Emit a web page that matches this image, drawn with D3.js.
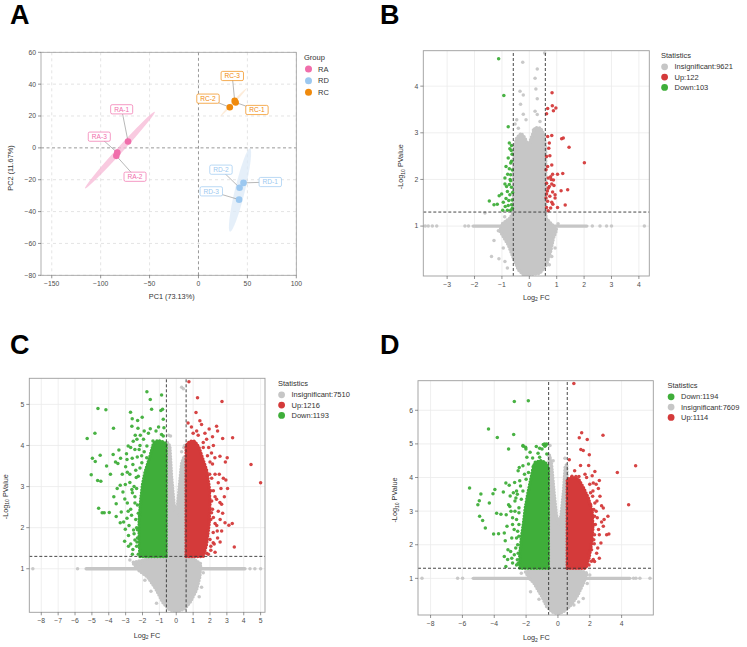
<!DOCTYPE html>
<html><head><meta charset="utf-8">
<script src="https://cdn.jsdelivr.net/npm/d3@7"></script>
<style>
body{margin:0;background:#fff}
svg text{font-family:"Liberation Sans",Arial,Helvetica,sans-serif}
</style>
</head><body>
<svg id="c" width="747" height="647"></svg>
<script>
// ===================== DATA =====================
// Panel A : PCA
const pcaSamples = ["RA-1","RA-2","RA-3","RC-1","RC-2","RC-3","RD-1","RD-2","RD-3"];
const pcaGroup   = ["RA","RA","RA","RC","RC","RC","RD","RD","RD"];
const pc1        = [-72,-84,-83, 38, 32, 37, 46, 42, 41.5];
const pc2        = [  4, -5, -3, 28.5, 25.5, 29.5, -22, -25, -32.5];
const pcaLegend  = ["RA","RD","RC"];
// ellipse major-axis end points (data units)
const ellipseEnds = {RA:[[-116,-25.4],[-44.6,22.7]], RC:[[22,19.6],[49.3,37.4]], RD:[[32.2,-52.6],[52.7,-0.3]]};
const pcaXTicks = [-150,-100,-50,0,50,100];
const pcaYTicks = [-80,-60,-40,-20,0,20,40,60];

// Panel B volcano
const bDown = [[-1.12,4.59],[-0.93,3.80],[-0.77,3.13],[-0.73,2.78],[-0.65,2.73],[-0.71,2.66],[-0.63,2.54],[-0.77,2.46],[-0.68,2.35],[-0.85,2.28],[-0.73,2.23],[-0.79,2.11],[-0.89,2.03],[-0.68,1.97],[-0.73,1.89],[-0.65,1.83],[-0.80,1.74],[-1.01,1.69],[-1.10,1.65],[-0.71,1.67],[-0.85,1.59],[-0.95,1.51],[-1.17,1.47],[-1.46,1.54],[-1.29,1.46],[-0.97,1.34],[-0.80,1.34],[-0.68,1.34],[-0.65,1.46],[-0.77,1.44],[-0.68,2.10],[-0.65,2.39],[-0.83,1.85],[-0.89,1.90],[-0.63,1.56],[-0.70,2.00],[-0.62,2.20],[-0.75,1.55],[-0.62,1.38],[-0.88,1.42],[-0.66,2.62],[-0.61,1.72]];
const bUp = [[0.83,3.86],[0.67,3.52],[0.84,3.58],[0.97,3.53],[0.88,3.47],[0.63,3.41],[0.67,2.92],[0.82,2.94],[1.18,2.87],[1.24,2.89],[1.45,2.69],[0.73,2.78],[0.71,2.67],[2.01,2.36],[0.63,2.49],[0.75,2.51],[0.82,2.31],[0.67,2.28],[0.85,2.11],[0.78,2.06],[0.69,2.03],[0.88,1.99],[0.63,1.92],[0.82,1.90],[1.03,2.11],[1.22,2.13],[0.90,1.87],[0.69,1.81],[1.16,1.76],[1.40,1.78],[0.85,1.73],[0.63,1.69],[0.75,1.64],[0.94,1.60],[0.67,1.53],[0.82,1.51],[1.31,1.45],[1.03,1.40],[0.63,1.40],[0.78,1.39],[0.69,1.33],[0.94,1.67],[0.61,2.21],[0.73,1.85],[0.61,1.60],[0.80,2.00],[0.66,1.75],[0.86,1.47]];
const bGrayCore = [[0.02,-0.04],[0.39,-0.01],[0.63,0.17],[0.78,0.46],[0.88,0.74],[1.0,0.92],[0.82,1.04],[0.61,1.17],[0.6,1.31],[0.6,2.67],[0.54,2.96],[0.41,3.1],[0.21,3.11],[0.09,2.92],[-0.04,2.71],[-0.16,2.89],[-0.3,2.99],[-0.46,2.89],[-0.56,2.67],[-0.58,1.31],[-0.71,1.17],[-1.01,1.04],[-1.07,0.89],[-0.77,0.6],[-0.58,0.31],[-0.4,0.06],[-0.22,-0.04]];
const bGray = [[0.56,4.71],[-0.24,4.51],[0.29,4.37],[0.21,4.17],[0.24,3.94],[-0.34,3.89],[-0.22,3.81],[0.29,3.73],[-0.32,3.61],[0.21,3.46],[0.29,3.39],[-0.22,3.40],[-0.46,3.28],[-0.12,3.28],[-0.52,3.19],[-0.40,3.10],[0.39,3.24],[0.15,3.06],[-1.38,0.35],[-1.11,0.30],[-1.29,0.69],[-1.13,0.90],[-0.95,0.53],[-0.89,0.24],[-0.80,0.10],[0.88,0.81],[0.94,0.53],[0.82,0.35],[0.73,0.17],[-1.62,1.28],[1.05,1.05],[-0.9,1.2]];
const bLineDense = [-2.05, 2.1];
const bLinePts = [-3.8,-3.69,-3.54,-3.38,-2.35,-2.22,2.3,2.58,2.82,3.0,4.2];
const bTicksX = [-3,-2,-1,0,1,2,3,4];
const bTicksY = [1,2,3,4];
const bStats = {Insignificant:9621, Up:122, Down:103};

// Panel C volcano
const cDownCore = [[-0.6,1.3],[-2.15,1.3],[-2.2,1.7],[-2.2,2.2],[-2.1,2.7],[-2.0,3.05],[-1.85,3.35],[-1.55,3.75],[-1.35,4.05],[-1.1,4.12],[-0.85,4.1],[-0.6,4.05]];
const cDown = [[-1.74,5.31],[-4.64,4.90],[-4.17,4.87],[-2.71,4.81],[-1.54,5.12],[-1.46,4.88],[-2.02,4.69],[-2.61,4.65],[-2.29,4.61],[-2.63,4.47],[-3.72,4.42],[-2.27,4.42],[-1.54,4.41],[-5.28,4.17],[-4.82,4.30],[-2.43,4.25],[-2.13,4.25],[-2.33,4.15],[-1.94,4.15],[-1.38,4.11],[-1.74,3.99],[-2.85,3.99],[-3.40,3.89],[-3.74,3.78],[-4.51,3.76],[-4.97,3.69],[-4.80,3.61],[-4.13,3.50],[-5.04,3.29],[-4.66,3.15],[-4.47,3.13],[-3.30,3.69],[-2.92,3.66],[-2.61,3.69],[-2.04,3.58],[-3.46,3.56],[-3.00,3.48],[-2.31,3.72],[-2.57,3.54],[-2.37,3.22],[-3.32,3.03],[-3.02,3.05],[-3.16,2.87],[-2.63,2.93],[-3.56,2.58],[-3.97,2.37],[-4.27,2.36],[-4.60,2.47],[-4.39,2.36],[-3.56,2.27],[-3.26,2.38],[-3.12,2.14],[-2.92,2.23],[-3.32,2.12],[-3.02,1.96],[-2.53,1.94],[-2.83,1.81],[-3.06,1.67],[-2.83,1.55],[-2.33,1.65],[-2.57,1.47],[-2.13,1.43],[-1.84,1.39],[-0.87,5.23],[-0.81,4.88],[-0.91,4.85],[-0.77,4.64],[-0.73,4.43],[-0.87,4.27],[-0.77,4.23],[-2.45,2.6],[-2.5,3.0],[-2.7,2.45],[-2.35,2.0],[-2.75,3.3],[-2.4,3.4],[-2.2,3.9],[-1.9,3.85],[-1.65,4.3],[-1.2,4.35],[-1.05,4.45],[-2.45,1.7],[-3.6,3.6],[-3.9,3.3],[-3.5,2.95],[-2.9,2.6],[-3.7,2.75],[-2.9,3.35],[-2.75,3.1],[-2.6,2.85],[-2.45,2.75],[-2.3,2.55],[-2.85,2.4],[-2.65,2.3],[-2.4,2.2],[-2.8,2.05],[-2.5,1.85],[-2.3,1.75],[-2.7,1.6],[-2.35,1.55],[-2.6,1.35],[-2.25,1.35],[-3.05,2.7],[-3.2,3.3],[-2.95,3.8],[-2.7,3.95],[-2.45,3.9],[-2.55,4.1],[-2.15,4.0],[-1.9,4.35],[-2.25,3.25],[-2.35,2.95],[-2.3,1.95],[-2.25,2.35],[-2.15,3.45],[-2.05,3.75],[-1.75,3.7]];
const cUpCore = [[0.585,1.3],[1.6,1.3],[1.8,1.6],[1.95,2.1],[2.0,2.6],[1.95,3.0],[1.8,3.4],[1.55,3.7],[1.35,3.95],[1.1,4.1],[0.8,4.1],[0.585,4.0]];
const cUp = [[0.75,5.55],[1.26,5.16],[2.71,5.07],[1.17,4.80],[1.50,4.51],[2.39,4.47],[2.45,4.35],[2.75,4.17],[3.34,4.19],[2.15,4.21],[1.21,4.35],[0.67,4.03],[4.43,3.54],[5.0,3.09],[2.91,3.60],[3.02,3.70],[2.79,3.20],[2.94,3.16],[3.04,2.95],[2.59,2.61],[2.69,2.57],[3.32,2.10],[2.89,2.12],[3.12,2.06],[2.43,1.92],[2.69,1.92],[3.44,1.53],[2.19,1.88],[2.45,1.75],[1.90,1.35],[2.09,2.36],[2.39,2.69],[2.49,3.09],[2.59,3.74],[2.29,3.70],[2.09,3.82],[1.92,3.95],[1.60,4.07],[1.80,4.15],[1.40,4.60],[2.49,2.40],[2.19,1.63],[2.00,1.71],[2.2,2.9],[2.3,3.3],[2.15,3.55],[2.6,2.2],[1.95,4.4],[1.0,4.3],[0.7,4.55],[2.05,1.45],[2.3,2.1],[2.05,2.9],[2.15,2.45],[2.3,2.75],[2.1,3.2],[2.25,1.6],[2.05,1.55],[2.4,2.05],[2.0,3.6],[2.2,4.0],[1.7,4.3],[1.3,4.25],[0.9,4.45],[2.55,3.3],[2.65,2.95],[2.3,1.4],[1.8,1.38],[2.6,1.65],[2.75,2.35],[2.85,2.75],[2.2,2.25],[2.05,2.2],[2.1,2.65],[1.98,3.3],[1.85,3.75],[1.6,3.95]];
const cGrayCore = [[0.02,-0.04],[0.5,0.02],[0.85,0.2],[1.2,0.48],[1.4,0.8],[1.45,1.12],[1.0,1.25],[0.6,1.28],[0.58,3.3],[0.47,3.74],[0.32,3.58],[0.18,3.0],[0.02,2.28],[-0.14,2.61],[-0.28,3.26],[-0.38,3.99],[-0.53,4.07],[-0.61,3.3],[-0.61,1.28],[-1.5,1.25],[-2.6,1.15],[-2.2,0.95],[-1.7,0.8],[-1.2,0.5],[-0.8,0.18],[-0.4,0.0]];
const cGray = [[0.32,5.42],[0.42,5.38],[-0.34,4.23],[0.32,3.85],[0.45,3.95],[1.36,0.32],[-1.86,0.72],[-1.17,0.16],[-2.75,1.21],[-2.15,1.13],[1.6,0.9],[-1.5,0.45],[1.5,0.55],[-0.45,4.25],[0.5,4.0]];
const cLineDense = [-5.34, 4.07];
const cLinePts = [-8.5,-5.85,4.37,4.66,5.0];
const cTicksX = [-8,-7,-6,-5,-4,-3,-2,-1,0,1,2,3,4,5];
const cTicksY = [1,2,3,4,5];
const cStats = {Insignificant:7510, Up:1216, Down:1193};

// Panel D volcano
const dDownCore = [[-0.6,1.3],[-2.4,1.3],[-2.4,1.7],[-2.3,2.2],[-2.15,2.7],[-2.05,3.1],[-1.9,3.5],[-1.75,3.85],[-1.6,4.2],[-1.45,4.45],[-1.1,4.5],[-0.8,4.45],[-0.6,4.3]];
const dDown = [[-2.74,6.26],[-1.86,6.28],[-4.36,5.44],[-3.81,5.19],[-2.78,5.28],[-3.10,4.85],[-2.18,4.93],[-2.01,4.85],[-2.43,4.30],[-5.55,3.69],[-4.84,3.51],[-4.94,3.31],[-5.03,3.19],[-4.31,3.24],[-4.92,2.85],[-4.73,2.72],[-4.56,2.50],[-4.08,3.52],[-3.96,3.64],[-3.43,3.57],[-3.27,3.84],[-3.06,3.77],[-2.72,3.85],[-3.85,2.94],[-3.58,2.91],[-3.25,2.89],[-4.04,2.32],[-3.73,2.33],[-3.37,2.35],[-3.31,2.12],[-3.14,1.85],[-2.97,1.80],[-3.37,1.65],[-3.16,1.56],[-3.27,1.35],[-3.02,3.14],[-3.10,3.19],[-2.64,3.39],[-2.85,2.80],[-2.85,2.60],[-2.53,2.00],[-2.74,1.70],[-2.85,1.46],[-2.53,2.40],[-1.59,4.58],[-1.55,4.33],[-0.92,4.98],[-0.82,4.93],[-0.75,4.97],[-1.0,4.85],[-1.25,4.72],[-1.15,4.6],[-0.7,4.7],[-1.36,4.92],[-1.15,4.87],[-2.2,4.95],[-2.03,4.9],[-0.84,5.0],[-0.71,5.0],[-2.6,3.6],[-2.45,3.1],[-2.6,2.2],[-2.55,1.55],[-2.7,3.0],[-2.35,3.75],[-2.1,4.1],[-1.85,4.4],[-2.9,2.2],[-2.75,2.45],[-2.6,2.75],[-2.45,2.95],[-2.7,3.3],[-2.55,3.5],[-2.4,3.9],[-2.8,3.55],[-2.95,3.0],[-2.65,1.9],[-2.5,1.75],[-2.9,1.6],[-2.6,1.4],[-2.45,2.25],[-2.2,4.35],[-1.95,4.6],[-1.75,4.75],[-2.5,4.2],[-3.0,3.45],[-3.2,2.55],[-2.5,1.45],[-2.45,2.6],[-2.3,3.35],[-2.2,3.6],[-2.0,3.95],[-1.85,4.15]];
const dUpCore = [[0.585,1.3],[1.75,1.3],[1.95,1.6],[2.1,2.0],[2.2,2.5],[2.15,3.0],[1.9,3.4],[1.6,3.7],[1.3,3.95],[0.9,4.0],[0.585,3.95]];
const dUp = [[1.0,6.8],[1.49,5.33],[1.34,5.18],[1.84,5.13],[2.83,5.26],[1.59,4.80],[1.44,4.83],[1.97,4.68],[1.42,4.36],[1.93,4.36],[0.71,4.53],[2.32,4.18],[3.73,4.15],[4.88,4.35],[4.44,3.19],[0.88,4.04],[1.13,4.03],[1.32,4.03],[2.60,3.91],[2.22,3.84],[2.54,3.67],[2.64,3.44],[2.85,3.09],[2.74,3.16],[3.14,2.85],[2.74,2.68],[2.85,2.55],[3.06,2.30],[3.20,2.32],[2.60,2.30],[2.47,2.80],[2.22,2.60],[2.28,2.03],[2.11,1.85],[2.43,1.75],[2.22,1.56],[2.11,1.51],[2.32,3.24],[2.05,3.19],[2.18,3.44],[2.4,3.0],[2.3,2.3],[1.95,1.4],[1.7,4.1],[1.05,4.2],[2.3,1.5],[2.5,1.9],[2.35,2.6],[2.55,2.45],[2.3,2.85],[2.45,3.3],[2.2,3.6],[2.0,3.8],[1.8,4.0],[2.7,2.05],[2.6,1.6],[2.9,2.75],[2.15,4.05],[2.4,3.8],[2.25,2.15],[2.25,3.05],[2.05,3.55],[1.95,1.75]];
const dGrayCore = [[0.06,-0.05],[0.5,0.05],[0.9,0.25],[1.25,0.5],[1.6,0.85],[1.85,1.15],[1.2,1.27],[0.6,1.3],[0.6,3.6],[0.55,4.4],[0.45,4.3],[0.35,3.6],[0.2,2.9],[0.05,2.6],[-0.1,2.9],[-0.25,3.6],[-0.4,4.4],[-0.55,4.7],[-0.6,3.8],[-0.6,1.3],[-1.2,1.27],[-2.05,1.2],[-1.8,1.0],[-1.5,0.85],[-1.0,0.45],[-0.7,0.15],[-0.3,-0.02]];
const dGray = [[-0.46,4.13],[0.48,4.03],[0.44,4.57],[-0.54,4.63],[0.5,3.99],[1.59,0.40],[1.0,0.21],[-1.19,0.38],[-1.72,0.60],[1.84,0.85],[1.3,0.3],[-2.3,1.15],[2.0,1.1],[-0.5,4.95],[-0.3,4.5]];
const dLineDense = [-5.32, 4.52];
const dLinePts = [-8.54,-6.3,-5.99,4.75,4.9,5.15,5.78];
const dTicksX = [-8,-6,-4,-2,0,2,4];
const dTicksY = [1,2,3,4,5,6];
const dStats = {Down:1194, Insignificant:7609, Up:1114};

const fcCut = Math.log2(1.5), pCut = -Math.log10(0.05);

// ===================== STYLE / LAYOUT =====================
const svg = d3.select("#c");
const minus = d => String(d).replace("-", "\u2212");
const TXT = "#333", TICK = "#4d4d4d", BORDER = "#9c9c9c";
const colGray = "#c6c6c6", colRed = "#d43a3a", colGreen = "#3fae3a";
const grpCol = {RA:"#f06eab", RD:"#9cc8f0", RC:"#f08a0c"};
const grpFill = {RA:"#f7b8d6", RD:"#dce9f7", RC:"#fbe0c2"};
const grpW = {RA:3, RD:5, RC:1.2};
const labelOff = {"RA-1":[-6.4,-32.2],"RA-2":[18.7,20.9],"RA-3":[-18,-16],"RC-1":[21.3,7.5],"RC-2":[-21.8,-8.6],"RC-3":[-2.4,-24.9],"RD-1":[26.8,-0.9],"RD-2":[-18.6,-18],"RD-3":[-27.8,-8.3]};

// panel letters
[["A",10,24],["B",380,24],["C",10,354],["D",380,354]].forEach(([t,x,y])=>{
  svg.append("text").attr("x",x).attr("y",y).attr("font-size",27).attr("font-weight","bold").attr("fill","#000").text(t);
});

// ===================== PANEL A =====================
(function(){
  const g = svg.append("g");
  const x = d3.scaleLinear().domain([-161,100]).range([41,296.3]);
  const y = d3.scaleLinear().domain([-80,60]).range([275.3,52.3]);
  g.append("rect").attr("x",41).attr("y",52.3).attr("width",255.3).attr("height",223).attr("fill","#fff");
  pcaXTicks.filter(v=>v!==0).forEach(v=>g.append("line").attr("x1",x(v)).attr("x2",x(v)).attr("y1",y(60)).attr("y2",y(-80)).attr("stroke","#d9d9d9").attr("stroke-width",0.7).attr("stroke-dasharray","3,3"));
  pcaYTicks.filter(v=>v!==0).forEach(v=>g.append("line").attr("y1",y(v)).attr("y2",y(v)).attr("x1",x(-161)).attr("x2",x(100)).attr("stroke","#d9d9d9").attr("stroke-width",0.7).attr("stroke-dasharray","3,3"));
  g.append("line").attr("x1",x(0)).attr("x2",x(0)).attr("y1",y(60)).attr("y2",y(-80)).attr("stroke","#999").attr("stroke-width",1).attr("stroke-dasharray","3,2.5");
  g.append("line").attr("y1",y(0)).attr("y2",y(0)).attr("x1",x(-161)).attr("x2",x(100)).attr("stroke","#999").attr("stroke-width",1).attr("stroke-dasharray","3,2.5");
  Object.keys(ellipseEnds).forEach(k=>{
    const [p,q] = ellipseEnds[k];
    const x1=x(p[0]), y1=y(p[1]), x2=x(q[0]), y2=y(q[1]);
    const cx=(x1+x2)/2, cy=(y1+y2)/2, rx=Math.hypot(x2-x1,y2-y1)/2;
    const ang=Math.atan2(y2-y1,x2-x1)*180/Math.PI;
    g.append("ellipse").attr("cx",0).attr("cy",0).attr("rx",rx).attr("ry",grpW[k])
      .attr("transform",`translate(${cx},${cy}) rotate(${ang})`)
      .attr("fill",grpFill[k]).attr("fill-opacity",k==="RC"?0.6:0.75);
  });
  const idx = d3.range(pcaSamples.length);
  idx.forEach(i=>{
    const px=x(pc1[i]), py=y(pc2[i]), o=labelOff[pcaSamples[i]];
    g.append("line").attr("x1",px).attr("y1",py).attr("x2",px+o[0]).attr("y2",py+o[1]).attr("stroke","#888").attr("stroke-width",0.6);
  });
  idx.forEach(i=>{
    g.append("circle").attr("cx",x(pc1[i])).attr("cy",y(pc2[i])).attr("r",3.3).attr("fill",grpCol[pcaGroup[i]]);
  });
  idx.forEach(i=>{
    const px=x(pc1[i]), py=y(pc2[i]), o=labelOff[pcaSamples[i]], c=grpCol[pcaGroup[i]];
    const lg=g.append("g").attr("transform",`translate(${px+o[0]},${py+o[1]})`);
    const r=lg.append("rect");
    const t=lg.append("text").attr("text-anchor","middle").attr("y",2.4).attr("font-size",6.6).attr("fill",c).text(pcaSamples[i]);
    const w=t.node().getComputedTextLength()+7;
    r.attr("x",-w/2).attr("y",-4.6).attr("width",w).attr("height",9.2).attr("rx",1.5).attr("fill","#fff").attr("stroke",c).attr("stroke-width",0.7);
  });
  g.append("rect").attr("x",41).attr("y",52.3).attr("width",255.3).attr("height",223).attr("fill","none").attr("stroke",BORDER).attr("stroke-width",0.8);
  pcaXTicks.forEach(v=>{
    g.append("line").attr("x1",x(v)).attr("x2",x(v)).attr("y1",275.3).attr("y2",278.3).attr("stroke",TICK).attr("stroke-width",0.6);
    g.append("text").attr("x",x(v)).attr("y",286).attr("text-anchor","middle").attr("font-size",6.8).attr("fill",TICK).text(minus(v));
  });
  pcaYTicks.forEach(v=>{
    g.append("line").attr("x1",38).attr("x2",41).attr("y1",y(v)).attr("y2",y(v)).attr("stroke",TICK).attr("stroke-width",0.6);
    g.append("text").attr("x",36).attr("y",y(v)+2.4).attr("text-anchor","end").attr("font-size",6.8).attr("fill",TICK).text(minus(v));
  });
  g.append("text").attr("x",171.7).attr("y",298.5).attr("text-anchor","middle").attr("font-size",7.3).attr("fill",TXT).text("PC1 (73.13%)");
  g.append("text").attr("transform","translate(12.5,168) rotate(-90)").attr("text-anchor","middle").attr("font-size",7.3).attr("fill",TXT).text("PC2 (11.67%)");
  g.append("text").attr("x",304).attr("y",59.7).attr("font-size",7.5).attr("fill",TXT).text("Group");
  pcaLegend.forEach((k,i)=>{
    const cy=69+i*11.65;
    g.append("circle").attr("cx",308.5).attr("cy",cy).attr("r",3.5).attr("fill",grpCol[k]);
    g.append("text").attr("x",318).attr("y",cy+2.6).attr("font-size",7.5).attr("fill",TXT).text(k);
  });
})();

// ===================== VOLCANO =====================
function volcano(cfg){
  const g = svg.append("g");
  const [x0,x1]=cfg.xRange, [y0,y1]=cfg.yRange;
  const x = d3.scaleLinear().domain(cfg.xDomain).range(cfg.xRange);
  const y = d3.scaleLinear().domain(cfg.yDomain).range(cfg.yRange);
  const cid = "clip"+cfg.id;
  g.append("clipPath").attr("id",cid).append("rect").attr("x",x0).attr("y",y1).attr("width",x1-x0).attr("height",y0-y1);
  cfg.ticksX.forEach(v=>g.append("line").attr("x1",x(v)).attr("x2",x(v)).attr("y1",y0).attr("y2",y1).attr("stroke","#ebebeb").attr("stroke-width",0.8));
  cfg.ticksY.forEach(v=>g.append("line").attr("y1",y(v)).attr("y2",y(v)).attr("x1",x0).attr("x2",x1).attr("stroke","#ebebeb").attr("stroke-width",0.8));
  const pg = g.append("g").attr("clip-path",`url(#${cid})`);
  const line = d3.line().x(d=>x(d[0])).y(d=>y(d[1])).curve(d3.curveLinearClosed);
  const area = (poly,col)=>{
    pg.append("path").attr("d",line(poly)).attr("fill",col).attr("stroke",col).attr("stroke-width",1.2).attr("stroke-linejoin","round");
    // dotted outline so the dense cloud edge reads as points
    pg.append("path").attr("d",line(poly)).attr("fill","none").attr("stroke",col).attr("stroke-width",3.5)
      .attr("stroke-linecap","round").attr("stroke-dasharray","0,2.9");
  };
  const pts = (arr,col)=>pg.selectAll(null).data(arr).enter().append("circle").attr("cx",d=>x(d[0])).attr("cy",d=>y(d[1])).attr("r",1.75).attr("fill",col).attr("fill-opacity",0.95);
  pg.append("line").attr("x1",x(cfg.lineDense[0])).attr("x2",x(cfg.lineDense[1])).attr("y1",y(1)).attr("y2",y(1)).attr("stroke",colGray).attr("stroke-width",3.4).attr("stroke-linecap","round");
  pts(cfg.linePts.map(v=>[v,1]),colGray);
  area(cfg.grayCore,colGray);
  pts(cfg.gray,colGray);
  if(cfg.downCore) area(cfg.downCore,colGreen);
  pts(cfg.down,colGreen);
  if(cfg.upCore) area(cfg.upCore,colRed);
  pts(cfg.up,colRed);
  [-fcCut,fcCut].forEach(v=>g.append("line").attr("x1",x(v)).attr("x2",x(v)).attr("y1",y0).attr("y2",y1).attr("stroke","#333").attr("stroke-width",0.9).attr("stroke-dasharray","3,2"));
  g.append("line").attr("y1",y(pCut)).attr("y2",y(pCut)).attr("x1",x0).attr("x2",x1).attr("stroke","#333").attr("stroke-width",0.9).attr("stroke-dasharray","3,2");
  g.append("rect").attr("x",x0).attr("y",y1).attr("width",x1-x0).attr("height",y0-y1).attr("fill","none").attr("stroke",BORDER).attr("stroke-width",0.9);
  cfg.ticksX.forEach(v=>{
    g.append("line").attr("x1",x(v)).attr("x2",x(v)).attr("y1",y0).attr("y2",y0+3).attr("stroke",TICK).attr("stroke-width",0.6);
    g.append("text").attr("x",x(v)).attr("y",y0+10.5).attr("text-anchor","middle").attr("font-size",6.8).attr("fill",TICK).text(minus(v));
  });
  cfg.ticksY.forEach(v=>{
    g.append("line").attr("x1",x0-3).attr("x2",x0).attr("y1",y(v)).attr("y2",y(v)).attr("stroke",TICK).attr("stroke-width",0.6);
    g.append("text").attr("x",x0-5).attr("y",y(v)+2.4).attr("text-anchor","end").attr("font-size",6.8).attr("fill",TICK).text(minus(v));
  });
  const xt = g.append("text").attr("x",cfg.xTitle[0]).attr("y",cfg.xTitle[1]).attr("text-anchor","middle").attr("font-size",7.3).attr("fill",TXT);
  xt.append("tspan").text("Log");
  xt.append("tspan").attr("font-size",5).attr("dy",1.6).text("2");
  xt.append("tspan").attr("dy",-1.6).text(" FC");
  const yt = g.append("text").attr("transform",`translate(${cfg.yTitle[0]},${cfg.yTitle[1]}) rotate(-90)`).attr("text-anchor","middle").attr("font-size",7.3).attr("fill",TXT);
  yt.append("tspan").text("-Log");
  yt.append("tspan").attr("font-size",5).attr("dy",1.6).text("10");
  yt.append("tspan").attr("dy",-1.6).text(" PValue");
  const L = cfg.legend;
  g.append("text").attr("x",L.x).attr("y",L.y).attr("font-size",7.5).attr("fill",TXT).text("Statistics");
  const cmap = {Insignificant:colGray, Up:colRed, Down:colGreen};
  Object.keys(cfg.stats).forEach((k,i)=>{
    const cy=L.y+8.8+i*10.3;
    g.append("circle").attr("cx",L.x+3.6).attr("cy",cy).attr("r",3.4).attr("fill",cmap[k]);
    g.append("text").attr("x",L.x+13.5).attr("y",cy+2.6).attr("font-size",7.5).attr("fill",TXT).text(k+":"+cfg.stats[k]);
  });
}

volcano({id:"B", xDomain:[-3.87,4.38], xRange:[423.3,649.3], yDomain:[-0.07,4.76], yRange:[276,50.7],
  ticksX:bTicksX, ticksY:bTicksY, grayCore:bGrayCore, gray:bGray, lineDense:bLineDense, linePts:bLinePts,
  down:bDown, up:bUp, stats:bStats, xTitle:[536.3,299.5], yTitle:[403,166.7], legend:{x:661,y:58}});
volcano({id:"C", xDomain:[-8.71,5.26], xRange:[29.3,265], yDomain:[-0.06,5.635], yRange:[612.3,378.3],
  ticksX:cTicksX, ticksY:cTicksY, grayCore:cGrayCore, gray:cGray, lineDense:cLineDense, linePts:cLinePts,
  downCore:cDownCore, down:cDown, upCore:cUpCore, up:cUp, stats:cStats, xTitle:[147,637.5], yTitle:[7.5,496.7], legend:{x:278,y:386}});
volcano({id:"D", xDomain:[-8.79,5.99], xRange:[418,653.3], yDomain:[-0.09,6.88], yRange:[615,380.7],
  ticksX:dTicksX, ticksY:dTicksY, grayCore:dGrayCore, gray:dGray, lineDense:dLineDense, linePts:dLinePts,
  downCore:dDownCore, down:dDown, upCore:dUpCore, up:dUp, stats:dStats, xTitle:[536.3,640], yTitle:[397,500], legend:{x:667.5,y:388}});
</script>
</body></html>
